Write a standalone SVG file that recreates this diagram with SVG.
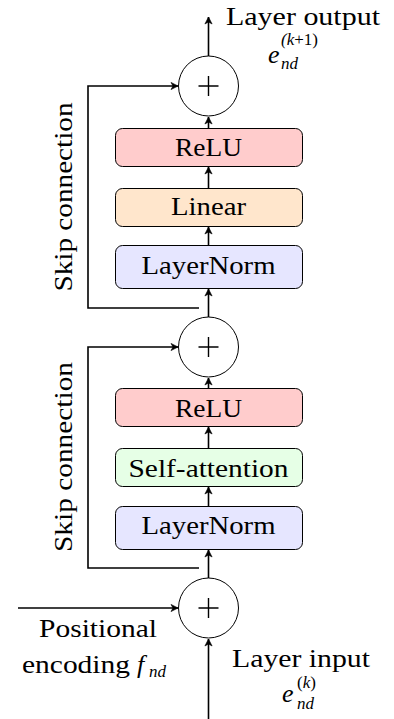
<svg xmlns="http://www.w3.org/2000/svg" width="394" height="719" viewBox="0 0 394 719">
<style>
.t{font-family:"Liberation Serif","Times New Roman",serif;font-size:25px;fill:#000}
.m{font-family:"Liberation Serif","Times New Roman",serif;font-style:italic;fill:#000}
.box{stroke:#000;stroke-width:1}
.circ{fill:#fff;stroke:#000;stroke-width:1}
.plus{stroke:#000;stroke-width:1.4;fill:none}
.ln{fill:none;stroke:#000;stroke-width:1.6;marker-end:url(#ah)}
</style>
<defs>
<marker id="ah" viewBox="-8 -5 10 10" markerWidth="10" markerHeight="10" refX="0" refY="0" orient="auto" markerUnits="userSpaceOnUse">
<path d="M0,0 L-7,-3.6 L-5,0 L-7,3.6 Z" fill="#000" stroke="#000" stroke-width="0.6" stroke-linejoin="round"/>
</marker>
</defs>
<rect width="394" height="719" fill="#fff"/>

<g id="connectors">
<path class="ln" d="M208.5,719 V639"/>
<path class="ln" d="M208.5,578 V550"/>
<path class="ln" d="M208.5,506 V487"/>
<path class="ln" d="M208.5,448 V427"/>
<path class="ln" d="M208.5,388 V378"/>
<path class="ln" d="M208.5,317 V289"/>
<path class="ln" d="M208.5,245 V227"/>
<path class="ln" d="M208.5,188 V167"/>
<path class="ln" d="M208.5,128 V117"/>
<path class="ln" d="M208.5,56 V17"/>
<path class="ln" d="M199,308 H88 V86 H178"/>
<path class="ln" d="M199,568 H88 V347 H178"/>
<path class="ln" d="M18,608 H178"/>
</g>

<g id="add_top">
<circle class="circ" cx="208.5" cy="86" r="30"/>
<path class="plus" d="M198.5,86 H218.5 M208.5,76 V96"/>
</g>
<g id="add_mid">
<circle class="circ" cx="208.5" cy="347" r="30"/>
<path class="plus" d="M198.5,347 H218.5 M208.5,337 V357"/>
</g>
<g id="add_bot">
<circle class="circ" cx="208.5" cy="608" r="30"/>
<path class="plus" d="M198.5,608 H218.5 M208.5,598 V618"/>
</g>

<g id="relu_top">
<rect class="box" x="115.5" y="128.5" width="187" height="38" rx="7" fill="#ffcccc"/>
<text class="t" x="208.5" y="156" text-anchor="middle" textLength="67" lengthAdjust="spacingAndGlyphs">ReLU</text>
</g>
<g id="linear">
<rect class="box" x="115.5" y="188.5" width="187" height="38" rx="7" fill="#ffe6cc"/>
<text class="t" x="208.5" y="215" text-anchor="middle" textLength="75" lengthAdjust="spacingAndGlyphs">Linear</text>
</g>
<g id="layernorm_top">
<rect class="box" x="115.5" y="245.5" width="187" height="43" rx="7" fill="#e6e6ff"/>
<text class="t" x="208.5" y="274" text-anchor="middle" textLength="134" lengthAdjust="spacingAndGlyphs">LayerNorm</text>
</g>

<g id="relu_bot">
<rect class="box" x="115.5" y="388.5" width="187" height="38" rx="7" fill="#ffcccc"/>
<text class="t" x="208.5" y="417" text-anchor="middle" textLength="67" lengthAdjust="spacingAndGlyphs">ReLU</text>
</g>
<g id="selfattention">
<rect class="box" x="115.5" y="448.5" width="187" height="38" rx="7" fill="#e6ffe6"/>
<text class="t" x="208.5" y="477" text-anchor="middle" textLength="160" lengthAdjust="spacingAndGlyphs">Self-attention</text>
</g>
<g id="layernorm_bot">
<rect class="box" x="115.5" y="506.5" width="187" height="43" rx="7" fill="#e6e6ff"/>
<text class="t" x="208.5" y="534" text-anchor="middle" textLength="134" lengthAdjust="spacingAndGlyphs">LayerNorm</text>
</g>

<g id="skip_label_top">
<text class="t" transform="translate(72,197) rotate(-90)" text-anchor="middle" textLength="189" lengthAdjust="spacingAndGlyphs">Skip connection</text>
</g>
<g id="skip_label_bot">
<text class="t" transform="translate(72,457) rotate(-90)" text-anchor="middle" textLength="190" lengthAdjust="spacingAndGlyphs">Skip connection</text>
</g>

<g id="output_label">
<text class="t" x="226" y="25" textLength="154" lengthAdjust="spacingAndGlyphs">Layer output</text>
<text class="m" x="268" y="63" font-size="26">e</text>
<text class="m" x="281" y="45" font-size="17">(<tspan>k</tspan><tspan font-style="normal">+1)</tspan></text>
<text class="m" x="281" y="69" font-size="17">nd</text>
</g>

<g id="input_label">
<text class="t" x="232" y="667" textLength="138" lengthAdjust="spacingAndGlyphs">Layer input</text>
<text class="m" x="282" y="702" font-size="26">e</text>
<text class="m" x="297" y="688" font-size="17"><tspan font-style="normal">(</tspan>k<tspan font-style="normal">)</tspan></text>
<text class="m" x="297" y="709" font-size="17">nd</text>
</g>

<g id="positional_label">
<text class="t" x="39" y="637" textLength="118" lengthAdjust="spacingAndGlyphs">Positional</text>
<text class="t" x="22" y="673" textLength="108" lengthAdjust="spacingAndGlyphs">encoding</text>
<text class="m" x="137" y="673" font-size="26">f</text>
<text class="m" x="149" y="677" font-size="17">nd</text>
</g>
</svg>
